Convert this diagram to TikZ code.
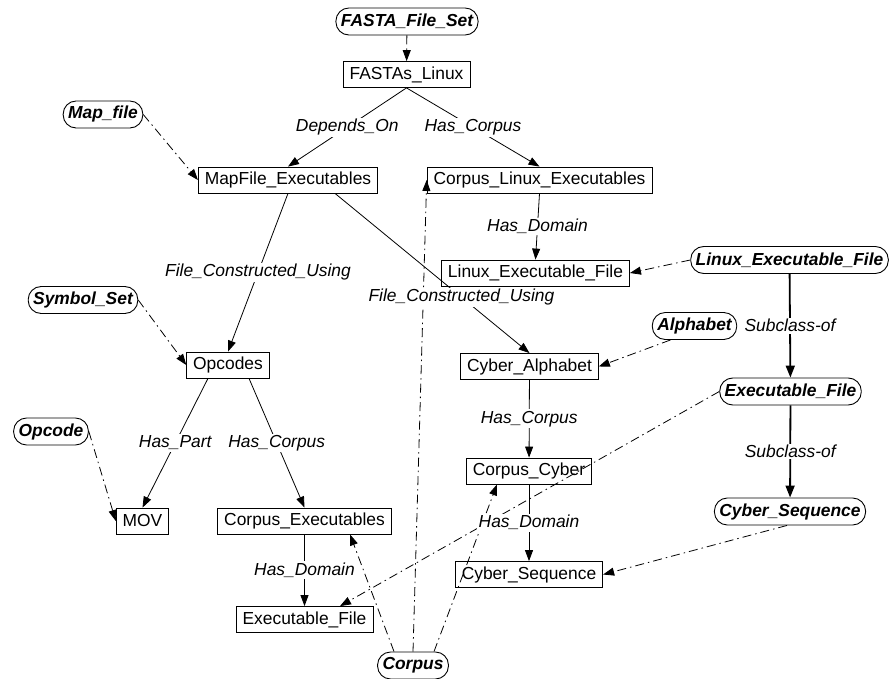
\documentclass[tikz,border=0pt]{standalone}
\usepackage{fontspec}
\setmainfont{Liberation Sans}
\usetikzlibrary{arrows.meta}
\begin{document}
\begin{tikzpicture}[x=1pt,y=-1pt,
  cls/.style={draw, line width=0.9pt, rounded corners=13pt, minimum height=27pt, inner xsep=5pt, inner ysep=0pt, font=\fontsize{17.4}{20}\selectfont\bfseries\itshape},
  inst/.style={draw, line width=0.8pt, minimum height=26pt, inner xsep=6.5pt, inner ysep=0pt, font=\fontsize{17.4}{20}\selectfont},
  rel/.style={line width=0.8pt, -{Triangle[length=11pt,width=8pt]}},
  sub/.style={line width=1.8pt, -{Triangle[length=12pt,width=9pt]}},
  typ/.style={line width=0.8pt, dash pattern=on 9pt off 4pt on 1.5pt off 4pt, -{Triangle[length=11pt,width=8pt]}},
  lbl/.style={fill=white, inner sep=1.5pt, font=\fontsize{17.4}{20}\selectfont\itshape}
]
\useasboundingbox (0,0) rectangle (891,679);

\node[cls] (fasta) at (407,21.5) {FASTA\_File\_Set};
\node[inst] (fl) at (406.5,74.5) {FASTAs\_Linux};
\node[cls] (mapfile) at (103,114.5) {Map\_file};
\node[inst] (mfe) at (288,180) {MapFile\_Executables};
\node[inst] (cle) at (539.5,180) {Corpus\_Linux\_Executables};
\node[inst] (lef) at (535.5,273) {Linux\_Executable\_File};
\node[cls] (lefc) at (789.5,260) {Linux\_Executable\_File};
\node[cls] (symset) at (83,300) {Symbol\_Set};
\node[cls] (alpha) at (694.5,326) {Alphabet};
\node[inst] (opc) at (228,365) {Opcodes};
\node[inst] (ca) at (529.5,366.5) {Cyber\_Alphabet};
\node[cls] (efc) at (790.5,391.5) {Executable\_File};
\node[cls] (opcode) at (51,431.5) {Opcode};
\node[inst] (cc) at (529,471) {Corpus\_Cyber};
\node[cls] (csc) at (790,511.5) {Cyber\_Sequence};
\node[inst] (mov) at (142.5,521) {MOV};
\node[inst] (ce) at (304.5,521) {Corpus\_Executables};
\node[inst] (cs) at (529,574.5) {Cyber\_Sequence};
\node[inst] (ef) at (304.5,619.5) {Executable\_File};
\node[cls] (corpus) at (413,665.5) {Corpus};

% type links (dash-dot)
\draw[typ] (fasta) -- (fl);
\draw[typ] (mapfile.east) -- (mfe.west);
\draw[typ] (symset.east) -- (opc.west);
\draw[typ] (opcode.east) -- (mov.west);
\draw[typ] (lefc.west) -- (lef.east);
\draw[typ] ([xshift=-24pt]alpha.south) -- (ca.east);
\draw[typ] (efc.west) -- ([xshift=35.5pt]ef.north);
\draw[typ] ([xshift=-3pt]csc.south) -- (cs.east);
\draw[typ] ([xshift=-19pt]corpus.north) -- ([xshift=45.5pt]ce.south);
\draw[typ] (corpus.north) -- (cle.west);
\draw[typ] ([xshift=21pt]corpus.north) -- ([xshift=-32pt]cc.south);

% relations
\draw[rel] (fl.south) -- node[lbl]{Depends\_On} (mfe.north);
\draw[rel] (fl.south) -- node[lbl]{Has\_Corpus} (cle.north);
\draw[rel] (mfe.south) -- node[lbl]{File\_Constructed\_Using} (opc.north);
\draw[rel] ([xshift=47pt]mfe.south) -- node[lbl,pos=0.65]{File\_Constructed\_Using} (ca.north);
\draw[rel] (cle.south) -- node[lbl]{Has\_Domain} (lef.north);
\draw[rel] ([xshift=-20pt]opc.south) -- node[lbl]{Has\_Part} (mov.north);
\draw[rel] ([xshift=21pt]opc.south) -- node[lbl]{Has\_Corpus} (ce.north);
\draw[rel] (ca) -- node[lbl]{Has\_Corpus} (cc);
\draw[rel] (cc) -- node[lbl]{Has\_Domain} (cs);
\draw[rel] (ce) -- node[lbl]{Has\_Domain} (ef);
\draw[sub] (lefc) -- node[lbl]{Subclass-of} (efc);
\draw[sub] (efc) -- node[lbl]{Subclass-of} (csc);
\end{tikzpicture}
\end{document}
